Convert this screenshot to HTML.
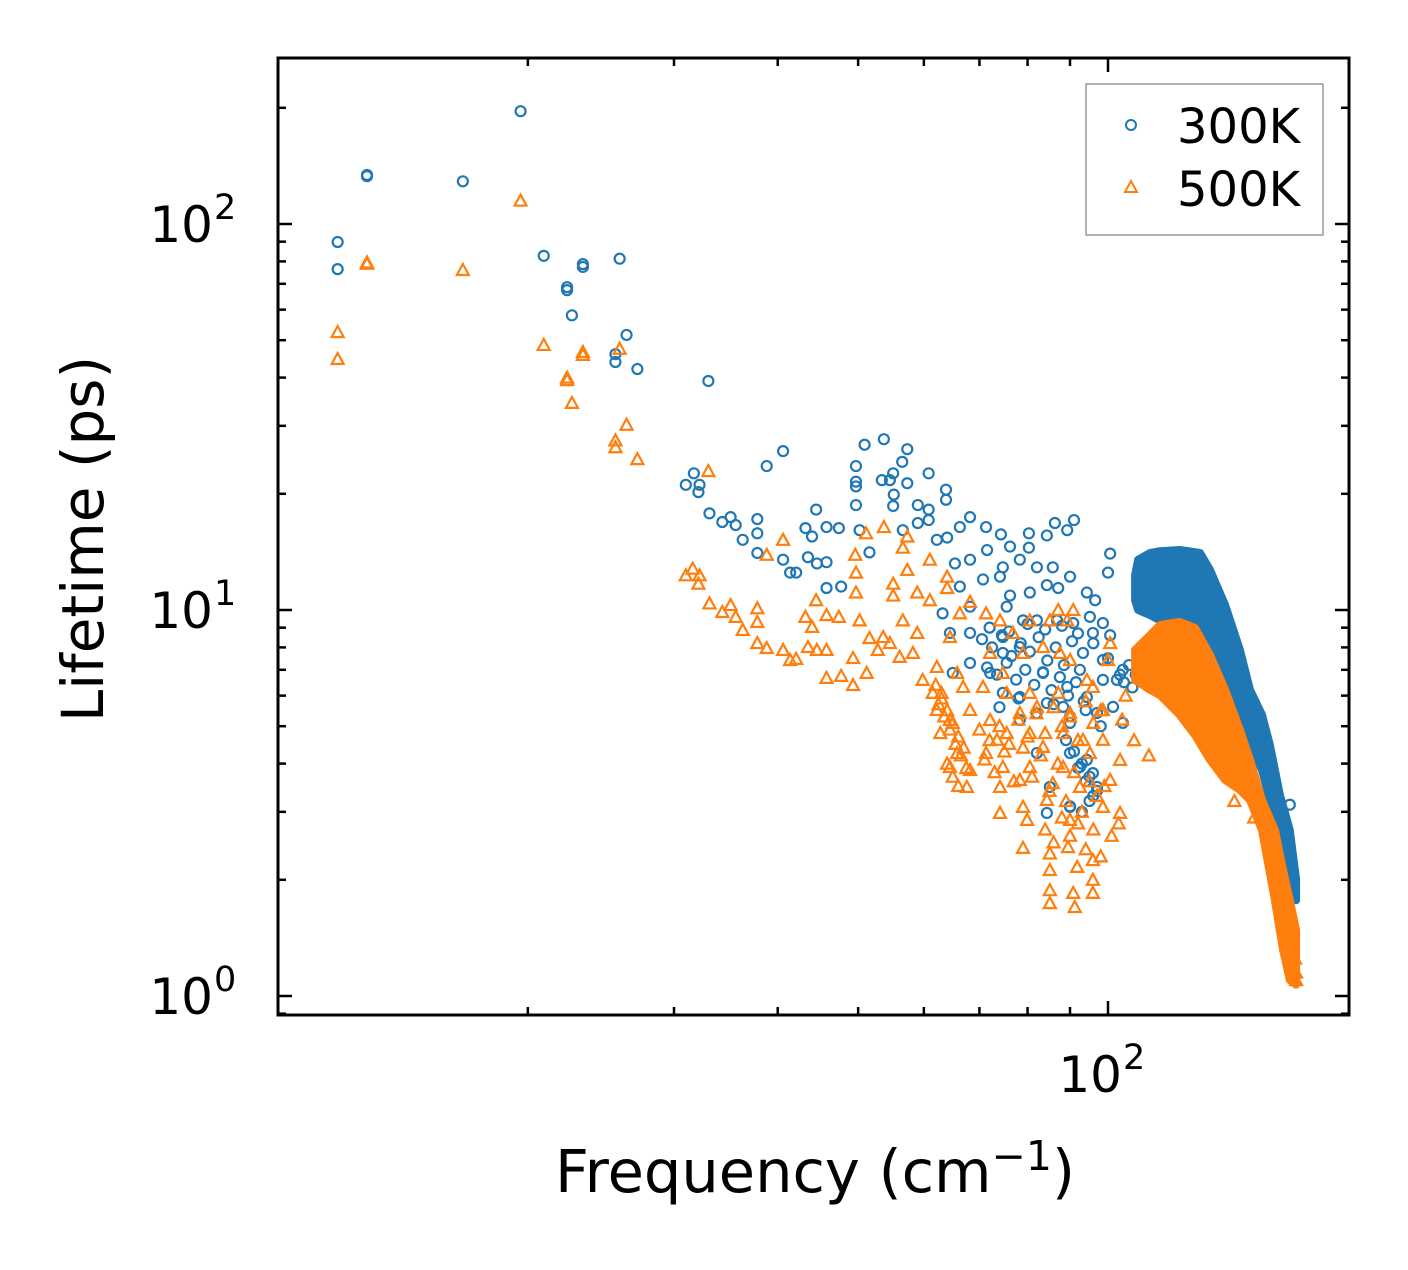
<!DOCTYPE html>
<html><head><meta charset="utf-8"><style>
body{margin:0;background:#fff;}
svg text{font-family:"DejaVu Sans","Liberation Sans",sans-serif;fill:#000;}
</style></head><body>
<svg id="chart" width="1408" height="1265" viewBox="0 0 1408 1265" xmlns="http://www.w3.org/2000/svg">
<rect width="1408" height="1265" fill="#fff"/>
<g id="bands"></g>
<g id="marks"></g>
<g id="axes"></g>
<g id="legend">
<rect x="1086" y="84" width="237" height="151" fill="#fff" stroke="#999" stroke-width="1.5"/>
<circle cx="1131" cy="125" r="5" fill="none" stroke="#1f77b4" stroke-width="2"/>
<text x="1177" y="143" font-size="48">300K</text>
<path d="M1131,181 L1137,192 L1125,192 Z" fill="none" stroke="#ff7f0e" stroke-width="2"/>
<text x="1177" y="206" font-size="48">500K</text>
</g>
</svg>
<script>
// ---- data ----
const blueFreq = [11.8,11.8,12.8,12.8,16.7,19.6,20.9,22.3,22.3,22.6,23.3,23.3,25.5,25.5,25.8,26.3,27.1,33.0,
31.0,31.7,32.2,32.1,33.1,34.3,35.1,35.6,36.3,37.8,37.8,37.8,38.8,40.6,40.6,41.4,42.1,43.2,44.0,44.5,43.5,44.6,45.8,45.8,47.4,47.7,45.8,
49.7,49.7,49.7,49.7,50.2,50.9,53.7,51.6,53.4,54.6,55.1,55.2,55.1,56.5,57.3,57.3,56.6,59.0,60.8,60.8,60.8,59.0,63.8,63.8,62.2,64.0,66.3,68.2,71.3,74.3,80.3,76.2,80.3,84.4,86.3,89.3,91.0,100.6,100,
65.4,68.2,71.5,74.7,78.3,82.1,85.8,90.0,94.3,96.5,95.1,98.6,66.3,70.7,74.1,76.2,80.5,84.4,87.1,75.5,79.0,68.2,63.2,64.5,68.2,74.7,82.1,86.8,90.8,95.9,93.3,98.6,
65.0,68.2,74.7,78.3,72.1,83.5,89.3,98.6,102.5,74.7,78.3,84.4,88.3,94.3,101.4,78.3,90.0,97.0,104.2,82.1,90.0,92.5,95.9,85.1,97.0,90.0,84.4,94.3,
100.6,100,104.2,103.4,165.6,112,118,125,104.5,
70.5,72.5,74.5,76.5,78.5,80.5,82.5,84.5,86.5,88.5,90.5,92.5,71.5,73.5,75.5,77.5,79.5,81.5,83.5,85.5,87.5,89.5,91.5,93.5,
72,76,80,84,88,92,96,74,78,82,86,90,94,98,89,91,93,95,97,92,94,96,90,93,95,106,108,110,107,109];
const blueLife = [89.8,76.4,134,133,129,196,82.7,68.6,67.4,58,78.7,77.4,46,43.9,81.3,51.6,42.1,39.2,
21.1,22.6,21.1,20.2,17.8,16.9,17.4,16.6,15.2,17.2,15.8,14.05,23.6,25.8,13.5,12.5,12.5,16.3,15.5,18.2,13.7,13.2,16.4,13.3,16.3,11.5,11.4,
23.6,21.5,20.9,18.7,16.1,26.8,27.7,14.1,21.7,21.7,22.6,19.9,18.6,24.2,26.1,21.3,16.1,18.7,22.6,18.2,17.1,16.8,20.5,19.3,15.2,15.4,16.4,17.4,16.4,15.7,15.8,14.6,14.5,15.6,16.8,16.1,17.1,14.0,12.5,
13.2,13.5,14.3,12.9,13.5,12.9,12.9,12.2,11.1,10.6,9.6,9.25,11.5,12.0,12.2,10.9,11.1,11.6,11.4,10.2,9.4,10.2,9.8,8.72,8.72,8.51,9.4,9.4,9.25,8.72,7.74,7.42,
6.87,7.29,7.74,8.02,6.87,6.87,6.32,6.59,6.59,6.10,5.95,5.74,5.61,5.95,5.61,5.19,5.10,5.41,5.10,4.26,4.26,3.92,3.78,3.48,3.48,3.09,2.98,4.09,
8.6,7.5,7.0,6.8,3.13,11.0,13.8,13.9,6.5,
8.4,8.0,8.6,7.6,8.2,7.8,8.5,7.4,8.0,7.2,8.3,7.0,7.1,6.8,7.3,6.6,7.0,6.4,6.9,6.2,6.7,6.0,6.5,5.8,
9.0,8.8,9.2,8.9,9.1,8.7,8.2,5.6,5.9,5.4,5.7,5.3,5.5,5.0,4.6,4.3,4.0,3.7,3.4,3.9,3.6,3.3,3.1,3.0,3.2,7.2,6.8,7.4,6.3,6.9];

const orangeFreq = [11.8,11.8,12.8,12.8,16.7,19.6,20.9,22.3,22.3,22.6,23.3,23.3,25.5,25.5,25.8,26.3,27.1,
33.0,31.6,31.0,32.2,32.1,33.1,34.3,35.1,35.6,36.3,37.8,37.8,37.8,38.8,38.8,40.6,40.6,41.4,42.1,43.2,44.0,44.5,43.5,44.6,45.8,45.8,47.4,47.7,45.8,
49.6,49.7,49.7,49.3,49.3,51.2,50.2,51.1,53.7,51.6,53.6,54.6,52.8,55.1,55.1,56.6,57.3,57.3,56.6,56.1,58.9,61.0,61.0,58.9,58.2,59.8,62.2,64.0,64.0,61.5,62.2,62.8,
64.5,66.3,68.2,65.8,66.9,68.2,64.5,65.8,68.2,64.5,67.6,71.3,74.1,72.1,76.8,74.7,70.7,80.5,85.1,87.1,90.8,89.3,83.5,79.0,87.5,90.0,100.6,100,
75.5,80.5,87.1,94.3,95.9,82.1,78.3,90.0,98.6,72.1,73.5,75.5,80.5,83.5,88.3,93.3,98.6,71.3,74.7,80.5,88.3,95.1,103.4,74.1,78.3,85.8,92.5,100.6,
74.1,79.0,84.4,90.0,98.6,103.4,79.9,79.0,85.1,89.5,91.8,95.9,85.1,85.1,85.1,90.8,91.2,95.9,95.9,
105,104,107.5,112,142,150,160,168,168.5,168.5,
62,63,64,65,66,67,62.5,63.5,64.5,65.5,66.5,67.5,63,64,65,66,
70,72,74,76,78,80,82,84,86,88,90,92,94,96,98,
71,73,75,77,79,81,83,85,87,89,91,93,95,97,99,
84,86,88,90,92,94,96,98,101,103];
const orangeLife = [52.5,44.7,79.5,78.9,76,115,48.6,40,39.4,34.4,45.8,46.6,27.5,26.4,47.5,30.2,24.6,
22.9,12.8,12.3,12.3,11.7,10.4,9.88,10.3,9.6,8.88,10.1,9.31,8.21,7.97,13.9,15.2,7.88,7.42,7.47,9.6,9.04,10.6,8.02,7.88,9.7,7.88,9.6,6.75,6.67,
13.9,12.5,11.1,7.51,6.39,6.87,9.4,15.8,16.4,8.46,8.51,8.21,7.88,11.7,10.9,14.5,15.5,12.7,9.4,7.56,11.1,13.5,10.6,8.72,7.74,6.59,7.12,12.2,11.4,6.10,5.51,4.80,
8.51,9.8,10.5,6.87,6.32,5.51,5.19,4.26,3.85,3.92,3.48,9.8,9.4,7.74,8.72,6.87,6.32,9.4,9.4,10,10,9.4,8.02,7.74,7.74,7.42,8.21,7.42,
6.10,6.10,6.10,6.59,6.32,5.61,5.41,5.41,5.51,5.19,4.61,4.80,4.80,4.42,4.80,4.61,4.61,4.26,3.92,3.92,3.92,4.26,4.09,3.48,3.63,3.56,3.48,3.63,
2.98,3.09,3.22,2.86,3.09,2.98,2.86,2.42,2.34,2.43,2.16,2.25,2.12,1.88,1.74,1.85,1.70,2.00,1.85,
6.0,5.2,4.6,4.2,3.2,2.9,2.2,1.25,1.15,1.1,
6.4,5.9,5.5,5.1,4.7,4.4,5.7,5.3,4.9,4.5,4.2,3.9,6.1,4.0,3.7,3.5,
4.9,4.6,5.0,4.5,5.2,4.7,5.4,4.8,5.6,5.0,5.3,4.6,5.8,5.1,5.5,
4.1,3.8,4.3,3.6,4.4,3.7,4.2,3.4,4.0,3.2,3.8,3.0,3.6,3.3,3.5,
2.7,2.5,2.9,2.6,2.8,2.4,2.7,2.3,2.6,2.8];

// dense-band envelopes
const blueBandFreq  = [107.8,108.7,112.4,115.5,122,129.1,132.7,138.4,144.2,148.3,153.3,156.7,161.1,165.6,168.5];
const blueBandUpper = [12.3,13.5,14.05,14.2,14.3,14.05,12.7,10.3,7.88,6.21,5.35,4.47,3.32,2.69,2.00];
const blueBandLower = [10.6,10.0,9.7,9.4,8.88,7.88,7.0,5.85,5.04,4.47,3.85,3.22,2.54,2.00,1.77];
const orangeBandFreq  = [107.8,112.4,115.5,122,127.3,132.7,138.4,144.2,148.3,153.3,158.9,162.5,165.6,168.5];
const orangeBandUpper = [7.88,8.61,9.14,9.31,8.98,7.64,6.21,4.89,4.09,3.22,2.69,2.12,1.77,1.48];
const orangeBandLower = [6.59,6.21,6.02,5.35,4.74,4.09,3.63,3.42,3.22,2.69,1.77,1.32,1.10,1.07];

const yTickValues = [1,10,100];
const yTickLabels = ["0","1","2"];
const xTickValues = [100];
const xTickLabels = ["2"];

// ---- axes ----
const L=278,R=1349,T=58,B=1015;
const xs = v => 1108 + 830*(Math.log10(v)-2);
const ys = v => 996 - 386*Math.log10(v);
const NS="http://www.w3.org/2000/svg";
function mk(tag, attrs, parent){const e=document.createElementNS(NS,tag);for(const k in attrs)e.setAttribute(k,attrs[k]);parent.appendChild(e);return e;}

const bands=document.getElementById('bands');
function band(fr,up,lo,color,name){
  let d='M'+fr.map((f,i)=>xs(f).toFixed(1)+','+ys(up[i]).toFixed(1)).join(' L');
  for(let i=fr.length-1;i>=0;i--) d+=' L'+xs(fr[i]).toFixed(1)+','+ys(lo[i]).toFixed(1);
  d+=' Z';
  const p=mk('path',{d:d,fill:color,stroke:color,'stroke-width':8,'stroke-linejoin':'round'},bands);
  
  
}
band(blueBandFreq,blueBandUpper,blueBandLower,'#1f77b4','band-300k');

const marks=document.getElementById('marks');
blueFreq.forEach((f,i)=>{
  const c=mk('circle',{cx:xs(f),cy:ys(blueLife[i]),r:5,fill:'none',stroke:'#1f77b4','stroke-width':2.2},marks);
  
  
});
const bandG=document.createElementNS(NS,'g');marks.appendChild(bandG);
{
  let d='M'+orangeBandFreq.map((f,i)=>xs(f).toFixed(1)+','+ys(orangeBandUpper[i]).toFixed(1)).join(' L');
  for(let i=orangeBandFreq.length-1;i>=0;i--) d+=' L'+xs(orangeBandFreq[i]).toFixed(1)+','+ys(orangeBandLower[i]).toFixed(1);
  d+=' Z';
  const p=mk('path',{d:d,fill:'#ff7f0e',stroke:'#ff7f0e','stroke-width':8,'stroke-linejoin':'round'},bandG);
  
  
}
orangeFreq.forEach((f,i)=>{
  const x=xs(f),y=ys(orangeLife[i]);
  const t=mk('path',{d:`M${x},${y-6} L${x+6},${y+5} L${x-6},${y+5} Z`,fill:'none',stroke:'#ff7f0e','stroke-width':2.2},marks);
  
  
});

const ax=document.getElementById('axes');
const frame=mk('rect',{x:L,y:T,width:R-L,height:B-T,fill:'none',stroke:'#000','stroke-width':3},ax);


function tick(x1,y1,x2,y2){mk('line',{x1,y1,x2,y2,stroke:'#000','stroke-width':2.5},ax);}
for(let e=-1;e<=2;e++){for(let m=1;m<10;m++){const v=m*Math.pow(10,e);const y=ys(v);if(y<T||y>B)continue;const len=m===1?14:8;tick(L,y,L+len,y);tick(R,y,R-len,y);}}
for(let e=1;e<=2;e++){for(let m=1;m<10;m++){const v=m*Math.pow(10,e);const x=xs(v);if(x<=L+1||x>=R)continue;const len=m===1?14:8;tick(x,B,x,B-len);tick(x,T,x,T+len);}}
yTickValues.forEach((v,i)=>{
  const t=mk('text',{x:213,y:ys(v)+18,'font-size':50,'text-anchor':'end'},ax);
  
  
  t.textContent='10';
  const s=mk('text',{x:214,y:ys(v)-5,'font-size':35},ax);
  s.textContent=yTickLabels[i];
});
xTickValues.forEach((v,i)=>{
  const t=mk('text',{x:xs(v)+14,y:1092,'font-size':50,'text-anchor':'end'},ax);
  
  
  t.textContent='10';
  const s=mk('text',{x:xs(v)+15,y:1069,'font-size':35},ax);
  s.textContent=xTickLabels[i];
});
const xt=mk('text',{x:815,y:1192,'font-size':59,'text-anchor':'middle'},ax);


xt.innerHTML='Frequency (cm<tspan font-size="41" dy="-22">−1</tspan><tspan dy="22">)</tspan>';
const yt=mk('text',{x:0,y:0,'font-size':58,'text-anchor':'middle',transform:'translate(103,539) rotate(-90)'},ax);


yt.textContent='Lifetime (ps)';
</script>
</body></html>
